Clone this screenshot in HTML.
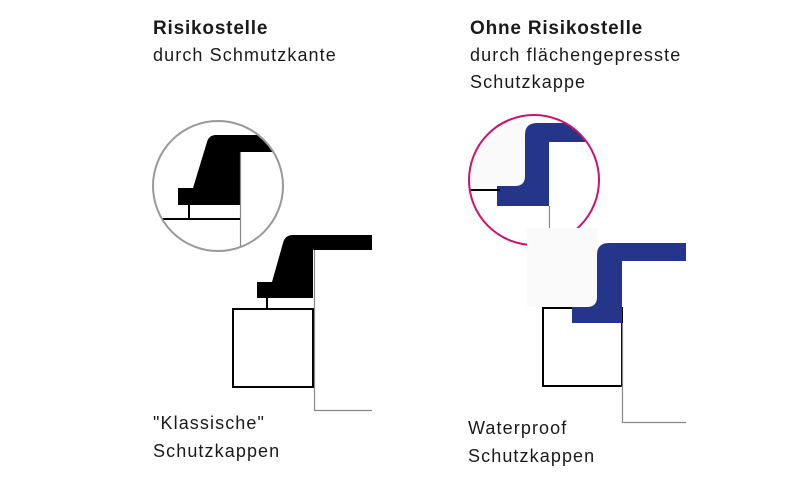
<!DOCTYPE html>
<html><head><meta charset="utf-8"><style>
html,body{margin:0;padding:0;background:#fff;}
svg{display:block;font-family:"Liberation Sans",sans-serif;}
.r{font-size:18px;letter-spacing:1.1px;fill:#1a1a1a;}
.b{font-size:19px;font-weight:bold;letter-spacing:0.8px;fill:#1a1a1a;}
</style></head><body>
<svg width="800" height="484" viewBox="0 0 800 484" xmlns="http://www.w3.org/2000/svg">
<defs>
<clipPath id="c1"><circle cx="218" cy="186" r="65"/></clipPath>
<clipPath id="c2"><circle cx="534" cy="180" r="65"/></clipPath>
</defs>
<text x="153" y="34" class="b">Risikostelle</text>
<text x="153" y="61" class="r">durch Schmutzkante</text>
<text x="470" y="34" class="b">Ohne Risikostelle</text>
<text x="470" y="61" class="r">durch flächengepresste</text>
<text x="470" y="88" class="r">Schutzkappe</text>
<text x="153" y="429" class="r">"Klassische"</text>
<text x="153" y="457" class="r">Schutzkappen</text>
<text x="468" y="434" class="r">Waterproof</text>
<text x="468" y="462" class="r">Schutzkappen</text>

<g clip-path="url(#c1)">
<path d="M178 205 L178 188 L193 188 L207 142 Q209 135 216 135 L300 135 L300 152 L240 152 L240 205 Z" fill="#000"/>
<line x1="240.5" y1="152" x2="240.5" y2="260" stroke="#888" stroke-width="1.2"/>
<line x1="150" y1="219" x2="240" y2="219" stroke="#000" stroke-width="2"/>
<line x1="189" y1="205" x2="189" y2="219" stroke="#000" stroke-width="2"/>
</g>
<circle cx="218" cy="186" r="65" fill="none" stroke="#999" stroke-width="2"/>

<path d="M257 298 L257 282 L272 282 L283 243 Q285 235 293 235 L372 235 L372 250 L313 250 L313 298 Z" fill="#000"/>
<line x1="267" y1="298" x2="267" y2="309" stroke="#000" stroke-width="2"/>
<rect x="233" y="309" width="80" height="78" fill="none" stroke="#000" stroke-width="2"/>
<polyline points="314.5,250 314.5,410.5 372,410.5" fill="none" stroke="#888" stroke-width="1.2"/>

<g clip-path="url(#c2)">
<rect x="460" y="110" width="65" height="80" fill="#fafafa"/>
<path d="M497 206 L497 186 L515 186 Q525 186 525 176 L525 135 Q525 123 537 123 L610 123 L610 142 L549 142 L549 206 Z" fill="#25358a"/>
<line x1="465" y1="190" x2="500" y2="190" stroke="#000" stroke-width="2"/>
<line x1="549.5" y1="206" x2="549.5" y2="250" stroke="#888" stroke-width="1.2"/>
</g>
<circle cx="534" cy="180" r="65" fill="none" stroke="#d0106e" stroke-width="2"/>

<rect x="527" y="228" width="70" height="79" fill="#fafafa"/>
<rect x="543" y="308" width="79" height="78" fill="none" stroke="#000" stroke-width="2"/>
<path d="M572 323 L572 307 L587 307 Q597 307 597 297 L597 255 Q597 243 609 243 L686 243 L686 261 L622 261 L622 323 Z" fill="#25358a"/>
<polyline points="622.5,323 622.5,422.5 686,422.5" fill="none" stroke="#888" stroke-width="1.2"/>
</svg>
</body></html>
